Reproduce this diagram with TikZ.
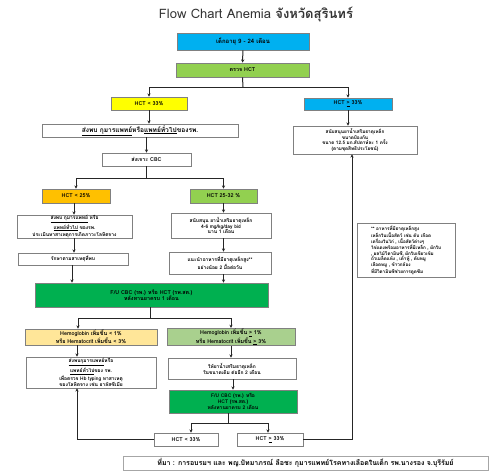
\documentclass[tikz,border=0pt]{standalone}
\usepackage{fontspec}
\setmainfont[Script=Thai]{Loma}
\usetikzlibrary{arrows.meta}
\definecolor{cyanbox}{RGB}{0,176,240}
\definecolor{lgreen}{RGB}{146,208,80}
\definecolor{ybox}{RGB}{255,255,0}
\definecolor{obox}{RGB}{255,192,0}
\definecolor{dgreen}{RGB}{0,176,80}
\definecolor{pyellow}{RGB}{255,230,153}
\definecolor{pgreen}{RGB}{169,208,142}
\begin{document}
\begin{tikzpicture}[x=1pt,y=-1pt,
  box/.style={draw=black!50, line width=0.7pt, align=center, inner sep=0.5pt,
    font=\fontsize{5.4}{6.3}\selectfont\bfseries},
  sz/.style 2 args={minimum width=#1pt, minimum height=#2pt},
  small/.style={font=\fontsize{4.9}{5.9}\selectfont\bfseries},
  conn/.style={line width=1pt, draw=black!85},
  arr/.style={conn, -{Stealth[length=3.2pt,width=3.2pt]}}]
\useasboundingbox (0,0) rectangle (491,471);
\fill[white] (0,0) rectangle (491,471);

\node[font=\fontsize{13}{15}\selectfont, text=black!80] (title) at (256,14)
  {Flow Chart Anemia \textbf{จังหวัดสุรินทร์}};

\node[box, fill=cyanbox, sz={132}{17}, font=\fontsize{6}{7}\selectfont\bfseries] (b1) at (243,41.5) {เด็กอายุ 9 - 24 เดือน};
\node[box, fill=lgreen, sz={133}{14}] (b2) at (242.5,70) {ตรวจ HCT};
\node[box, fill=ybox, sz={76}{13}] (hl) at (149,103.5) {HCT < 33\%};
\node[box, fill=cyanbox, sz={88}{12}] (hr) at (348,104) {HCT \underline{>} 33\%};
\node[box, sz={196}{13}, font=\fontsize{6.6}{7.6}\selectfont\bfseries] (ref1) at (140,130.5)
  {\underline{ส่งพบ กุมารแพทย์}หรือ\underline{แพทย์ทั่วไป}ของรพ.};
\node[box, sz={89}{13}] (cbc) at (146.5,159.5) {ส่งเจาะ CBC};
\node[box, fill=obox, sz={68}{14}] (h25) at (76,196) {HCT < 25\%};
\node[box, fill=lgreen, sz={67}{14}] (h2532) at (223.5,196) {HCT 25-32 \%};
\node[box, small, sz={115}{23}] (l1) at (74.5,226.5)
  {\underline{ส่งพบ กุมารแพทย์} หรือ\\\underline{แพทย์ทั่วไป} ของรพ.\\ประเมินหาสาเหตุการเกิดภาวะโลหิตจาง};
\node[box, small, sz={100}{25}] (m1) at (221,225.5)
  {สนับสนุน ยาน้ำเสริมธาตุเหล็ก\\4-6 mg/kg/day bid\\นาน 1 เดือน};
\node[box, small, sz={110}{12}] (l2) at (73,259) {รักษาตามสาเหตุที่พบ};
\node[box, small, sz={102}{22}] (m2) at (220,263)
  {แนะนำอาหารที่มีธาตุเหล็กสูง**\\อย่างน้อย 2 มื้อต่อวัน};
\node[box, fill=dgreen, sz={233}{24}] (fu1) at (151.5,295)
  {F/U CBC (รพ.) หรือ HCT (รพ.สต.)\\หลังทานยาครบ 1 เดือน};
\node[box, fill=pyellow, sz={132}{16}] (hb1) at (91,337)
  {Hemoglobin เพิ่มขึ้น < 1\%\\หรือ Hematocrit เพิ่มขึ้น < 3\%};
\node[box, fill=pgreen, sz={128}{16}] (hb2) at (231,337)
  {Hemoglobin เพิ่มขึ้น \underline{>} 1\%\\หรือ Hematocrit เพิ่มขึ้น \underline{>} 3\%};
\node[box, small, sz={130}{31}] (l3) at (91,372.5)
  {\underline{ส่งพบกุมารแพทย์}หรือ\\\underline{แพทย์ทั่วไป}ของ รพ.\\เพื่อตรวจ Hb typing หาสาเหตุ\\ของโลหิตจาง เช่น ธาลัสซีเมีย};
\node[box, small, sz={128}{21}] (m3) at (232,368.5)
  {ให้ยาน้ำเสริมธาตุเหล็ก\\ในขนาดเดิม ต่ออีก 2 เดือน};
\node[box, fill=dgreen, sz={128}{23}, font=\fontsize{5}{6}\selectfont\bfseries] (fu2) at (233,401.5)
  {F/U CBC (รพ.) หรือ\\HCT (รพ.สต.)\\หลังทานยาครบ 2 เดือน};
\node[box, sz={64}{13}] (c1) at (186,439.5) {HCT < 33\%};
\node[box, sz={66}{13}] (c2) at (270,439.5) {HCT \underline{>} 33\%};
\node[box, sz={124}{28}, font=\fontsize{4.7}{5.6}\selectfont\bfseries] (rb) at (355,140)
  {สนับสนุนยาน้ำเสริมธาตุเหล็ก\\ขนาดป้องกัน\\ขนาด 12.5 มก.สัปดาห์ละ 1 ครั้ง\\(ตามชุดสิทธิประโยชน์)};
\node[box, sz={98}{54}, align=left, font=\fontsize{4.6}{5.5}\selectfont\bfseries] (note) at (406,250)
  {** อาหารที่มีธาตุเหล็กสูง\\เหล็กในเนื้อสัตว์ เช่น ตับ เลือด\\เครื่องในไก่ , เนื้อสัตว์ต่างๆ\\ไข่แดงพร้อมอาหารที่มีเหล็ก , ผักใบ\\, ผลไม้วิตามินซี, ผักใบเขียวเข้ม\\ถั่วเมล็ดแห้ง , เต้าหู้ , ตับหมู\\เลือดหมู , ข้าวกล้อง\\ที่มีวิตามินซีช่วยการดูดซึม};
\node[box, draw=black!35, sz={365}{14}, font=\fontsize{7}{8}\selectfont\bfseries] (foot) at (305.5,463)
  {ที่มา : การอบรมฯ และ พญ.ปัทมาภรณ์ ลือชะ กุมารแพทย์โรคทางเลือดในเด็ก รพ.นางรอง จ.บุรีรัมย์};

% connectors
\draw[arr] (b1) -- (b2);
\coordinate (j1) at (243,87);
\draw[conn] (b2.south) -- (j1);
\draw[arr] (j1) -| (hl.north);
\draw[arr] (j1) -| (hr.north);
\draw[arr] (hl.south) -- (hl.south |- ref1.north);
\draw[arr] (cbc.north |- ref1.south) -- (cbc.north);
\coordinate (j2) at (146.5,178);
\draw[conn] (cbc.south) -- (j2);
\draw[arr] (j2) -| (h25.north);
\draw[arr] (j2) -| (h2532.north);
\draw[arr] (h25.south -| 74,0) -- (l1.north -| 74,0);
\draw[arr] (l1.south -| 74,0) -- (l2.north -| 74,0);
\draw[arr] (h2532.south) -- (h2532.south |- m1.north);
\draw[arr] (h2532.south |- m1.south) -- (h2532.south |- m2.north);
\draw[arr] (l2.south -| 72,0) -- (fu1.north -| 72,0);
\draw[arr] (h2532.south |- m2.south) -- (h2532.south |- fu1.north);
\coordinate (j3) at (150,318);
\draw[conn] (fu1.south -| j3) -- (j3);
\draw[arr] (j3) -| (hb1.north -| 78,0);
\draw[arr] (j3) -| (hb2.north);
\draw[arr] (hb1.south -| 77,0) -- (l3.north -| 77,0);
\draw[arr] (hb2.south) -- (m3.north -| hb2.south);
\draw[arr] (m3.south -| fu2.north) -- (fu2.north);
\coordinate (j4) at (228,423);
\draw[conn] (fu2.south -| j4) -- (j4);
\draw[arr] (j4) -| (c1.north -| 191,0);
\draw[arr] (j4) -| (c2.north -| 268,0);
\draw[arr] (c1.west) -| (l3.south -| 77,0);
\draw[arr] (c2.east) -| (rb.south -| 352,0);
\draw[arr] (hr.south) -- (rb.north -| hr.south);
\end{tikzpicture}
\end{document}
